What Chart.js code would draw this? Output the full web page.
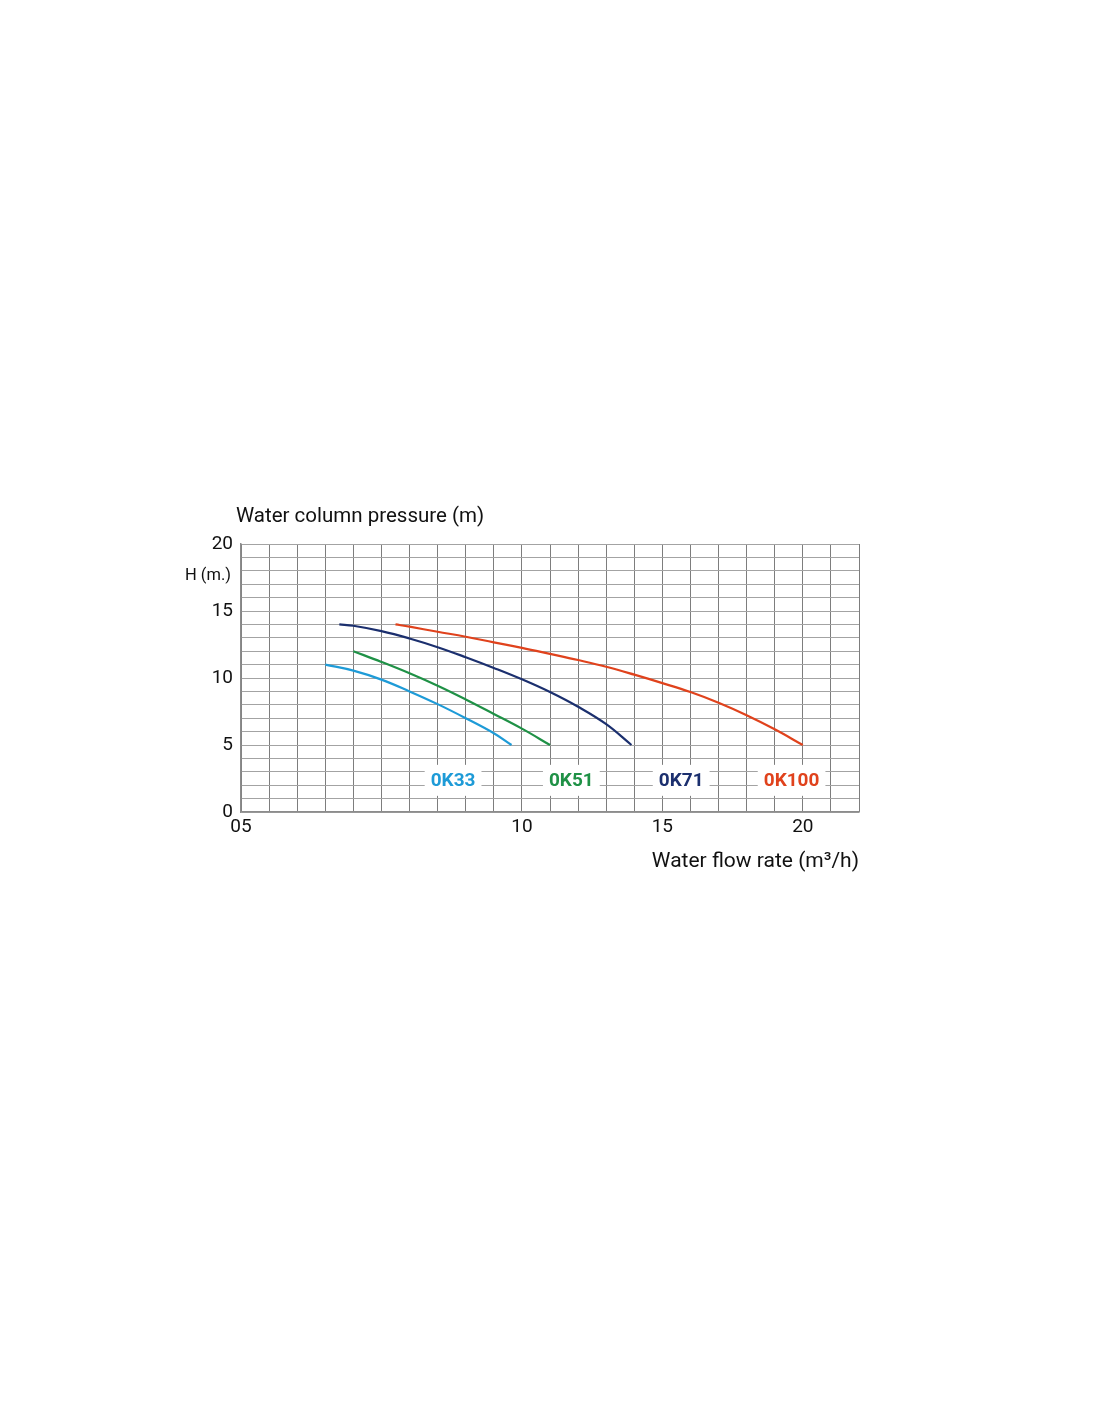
<!DOCTYPE html>
<html>
<head>
<meta charset="utf-8">
<title>Pump curves</title>
<script src="https://cdn.jsdelivr.net/npm/chart.js@4.4.1/dist/chart.umd.min.js"></script>
<style>
  body { margin: 0; background: #fff; }
  canvas { display: block; }
</style>
</head>
<body>
<canvas id="courbe" width="1100" height="1422"></canvas>
<script>
// valeurs
var modeles = ["0K33", "0K51", "0K71", "0K100"];

var ok33Debit = [3.0, 4, 5, 6, 7, 8, 9, 9.63];
var ok33Haut  = [11.0, 10.55, 9.88, 9.0, 8.05, 7.0, 5.88, 5.0];

var ok51Debit = [4.0, 5, 6, 7, 8, 9, 10, 11];
var ok51Haut  = [12.0, 11.2, 10.35, 9.42, 8.4, 7.32, 6.22, 5.0];

var ok71Debit = [3.5, 4, 5, 6, 7, 8, 9, 10, 11, 12, 13, 13.9];
var ok71Haut  = [14.0, 13.9, 13.5, 12.95, 12.3, 11.55, 10.75, 9.9, 8.95, 7.85, 6.55, 5.0];

var ok100Debit = [5.5, 6, 7, 8, 9, 10, 11, 12, 13, 14, 15, 16, 17, 18, 19, 20];
var ok100Haut  = [14.0, 13.83, 13.45, 13.08, 12.66, 12.25, 11.8, 11.34, 10.84, 10.25, 9.62, 8.95, 8.15, 7.22, 6.17, 5.0];

var xTickValeurs = [0, 10, 15, 20];
var xTickTextes = ["05", "10", "15", "20"];

// ancrage des étiquettes (en unités du graphique)
var etiquetteX = [7.55, 11.76, 15.67, 19.6];
var etiquetteY = 2.4;

var couleurs = ["#1e9bd7", "#1f9146", "#1b2f6e", "#e0421c"];

function points(debit, haut) {
    return debit.map(function(d, i) { return {x: d, y: haut[i]}; });
}

var series = [
    points(ok33Debit, ok33Haut),
    points(ok51Debit, ok51Haut),
    points(ok71Debit, ok71Haut),
    points(ok100Debit, ok100Haut)
];

var textes = {
    id: "textes",
    afterDraw: function(chart) {
        var ctx = chart.ctx;
        var zone = chart.chartArea;
        ctx.save();
        ctx.fillStyle = "#111";
        ctx.textBaseline = "middle";
        ctx.font = "20.5px Roboto";
        ctx.textAlign = "left";
        ctx.fillText("Water column pressure (m)", zone.left - 5, zone.top - 27);
        ctx.font = "16.5px Roboto";
        ctx.textAlign = "right";
        ctx.fillText("H (m.)", zone.left - 10, zone.top + 32);
        ctx.restore();
    },
    afterDatasetsDraw: function(chart) {
        var ctx = chart.ctx;
        var sx = chart.scales.x, sy = chart.scales.y;
        ctx.save();
        ctx.font = "bold 19px Roboto";
        ctx.textAlign = "center";
        ctx.textBaseline = "middle";
        modeles.forEach(function(nom, i) {
            var px = sx.getPixelForValue(etiquetteX[i]);
            var py = sy.getPixelForValue(etiquetteY);
            var w = ctx.measureText(nom).width + 12;
            ctx.fillStyle = "#fff";
            ctx.fillRect(px - w / 2, py - 15, w, 31);
            ctx.fillStyle = couleurs[i];
            ctx.fillText(nom, px, py + 1);
        });
        ctx.restore();
    }
};

var ctx = document.getElementById("courbe").getContext("2d");
var graphe = new Chart(ctx, {
    type: "scatter",
    data: {
        datasets: series.map(function(s, i) {
            return {
                label: modeles[i],
                data: s,
                showLine: true,
                borderColor: couleurs[i],
                backgroundColor: couleurs[i],
                borderWidth: 2.2,
                pointRadius: 0,
                tension: 0.4
            };
        })
    },
    options: {
        responsive: false,
        animation: false,
        layout: { padding: { left: 0, right: 241, top: 544, bottom: 550 } },
        plugins: { legend: { display: false }, tooltip: { enabled: false } },
        scales: {
            x: {
                type: "linear",
                min: 0,
                max: 22,
                afterFit: function(scale) { scale.height = 60; },
                border: { color: "#8c8c8c", width: 1.5 },
                grid: { color: "#7d7d7d", lineWidth: 1, drawTicks: false },
                ticks: {
                    stepSize: 1,
                    autoSkip: false,
                    maxRotation: 0,
                    padding: 4,
                    color: "#111",
                    font: { family: "Roboto", size: 19 },
                    callback: function(v) {
                        var i = xTickValeurs.indexOf(v);
                        return i >= 0 ? xTickTextes[i] : "";
                    }
                },
                title: {
                    display: true,
                    text: "Water flow rate (m³/h)",
                    align: "end",
                    color: "#111",
                    font: { family: "Roboto", size: 21 },
                    padding: { top: 0, bottom: -2 }
                }
            },
            y: {
                type: "linear",
                min: 0,
                max: 20,
                afterFit: function(scale) { scale.width = 241; },
                border: { color: "#8c8c8c", width: 1.5 },
                grid: { color: "#a3a3a3", lineWidth: 1, drawTicks: false },
                ticks: {
                    stepSize: 1,
                    autoSkip: false,
                    padding: 8,
                    color: "#111",
                    font: { family: "Roboto", size: 19 },
                    callback: function(v) { return v % 5 === 0 ? String(v) : ""; }
                }
            }
        }
    },
    plugins: [textes]
});
</script>
</body>
</html>
